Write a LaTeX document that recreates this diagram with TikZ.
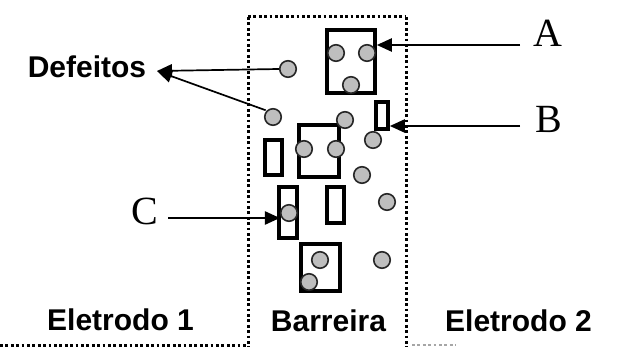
\documentclass[tikz,border=0pt]{standalone}
\usepackage{fontspec}
\setmainfont{Liberation Sans}
\newfontfamily\serifA{Liberation Serif}
\usetikzlibrary{arrows.meta}
\definecolor{dotgray}{RGB}{190,190,190}
\tikzset{
  dotline/.style={line width=3pt, dash pattern=on 2.8pt off 2.6pt, black},
  boxd/.style={draw=black, line width=3.6pt, rectangle, inner sep=0pt, fill=none},
  defect/.style={circle, draw=black!85, line width=1.6pt, fill=dotgray, minimum size=16.5pt, inner sep=0pt},
  arr/.style={line width=2.3pt, -{Triangle[length=15pt,width=13pt]}},
  thinarr/.style={line width=1.7pt, -{Triangle[length=15pt,width=13pt]}},
  lab/.style={font=\fontsize{30}{36}\selectfont\bfseries, inner sep=0pt, anchor=base},
  letter/.style={font=\serifA\fontsize{40}{46}\selectfont, inner sep=0pt, anchor=base}
}
\begin{document}
\begin{tikzpicture}[x=1pt,y=-1pt]
\path[use as bounding box, fill=white] (0,0) rectangle (628,347);
% barrier region
\draw[dotline] (248,17) -- (406,17);
\draw[dotline] (248,17) -- (248,347);
\draw[dotline] (406,17) -- (406,347);
\draw[dotline] (0,345) -- (246,345);
\draw[dotline, black!35, line width=1.8pt] (412,345) -- (456,345);
% boxes
\node[boxd, minimum width=48pt, minimum height=63pt] (boxA) at (351,61.5) {};
\node[boxd, minimum width=40pt, minimum height=52pt] (boxM) at (319,151) {};
\node[boxd, minimum width=39pt, minimum height=47pt] (boxD) at (320.5,267.5) {};
\node[boxd, minimum width=12pt, minimum height=27pt] (rectB) at (382,115.5) {};
\node[boxd, minimum width=17pt, minimum height=35pt] (rectL) at (273.5,157.5) {};
\node[boxd, minimum width=18pt, minimum height=51pt] (rectC) at (288,212.5) {};
\node[boxd, minimum width=17pt, minimum height=36pt] (rectM) at (335.5,205) {};
% defects
\node[defect] (a1) at (336,53) {};
\node[defect] (a2) at (367,53) {};
\node[defect] (a3) at (351,85) {};
\node[defect] (d1) at (288,69) {};
\node[defect] (d2) at (273,117) {};
\node[defect] (e1) at (345,120) {};
\node[defect] (e2) at (373,140) {};
\node[defect] (m1) at (304,149) {};
\node[defect] (m2) at (336,149) {};
\node[defect] (e3) at (362,175) {};
\node[defect] (cC) at (289,213) {};
\node[defect] (e4) at (387,202) {};
\node[defect] (b1) at (320,260) {};
\node[defect] (b2) at (309,282) {};
\node[defect] (e5) at (382,260) {};
% labels
\node[lab] (def) at (87,78) {Defeitos};
\node[lab] (el1) at (120.5,330) {Eletrodo 1};
\node[lab] (bar) at (328.5,331) {Barreira};
\node[lab] (el2) at (518.5,331) {Eletrodo 2};
\node[letter] (lA) at (547.5,47) {A};
\node[letter] (lB) at (548.5,133) {B};
\node[letter] (lC) at (145,225) {C};
% arrows
\coordinate (aS) at (520,45);
\coordinate (bS) at (520,126);
\coordinate (cS) at (168,218);
\coordinate (dtip) at (157,71);
\draw[arr] (aS) -- (boxA.east |- aS);
\draw[arr] (bS) -- (rectB.east |- bS);
\draw[arr] (cS) -- (cC.west |- cS);
\draw[thinarr] (d1.west) -- (dtip);
\draw[thinarr, shorten <=1pt] (d2.north west) -- (dtip);
\end{tikzpicture}
\end{document}
